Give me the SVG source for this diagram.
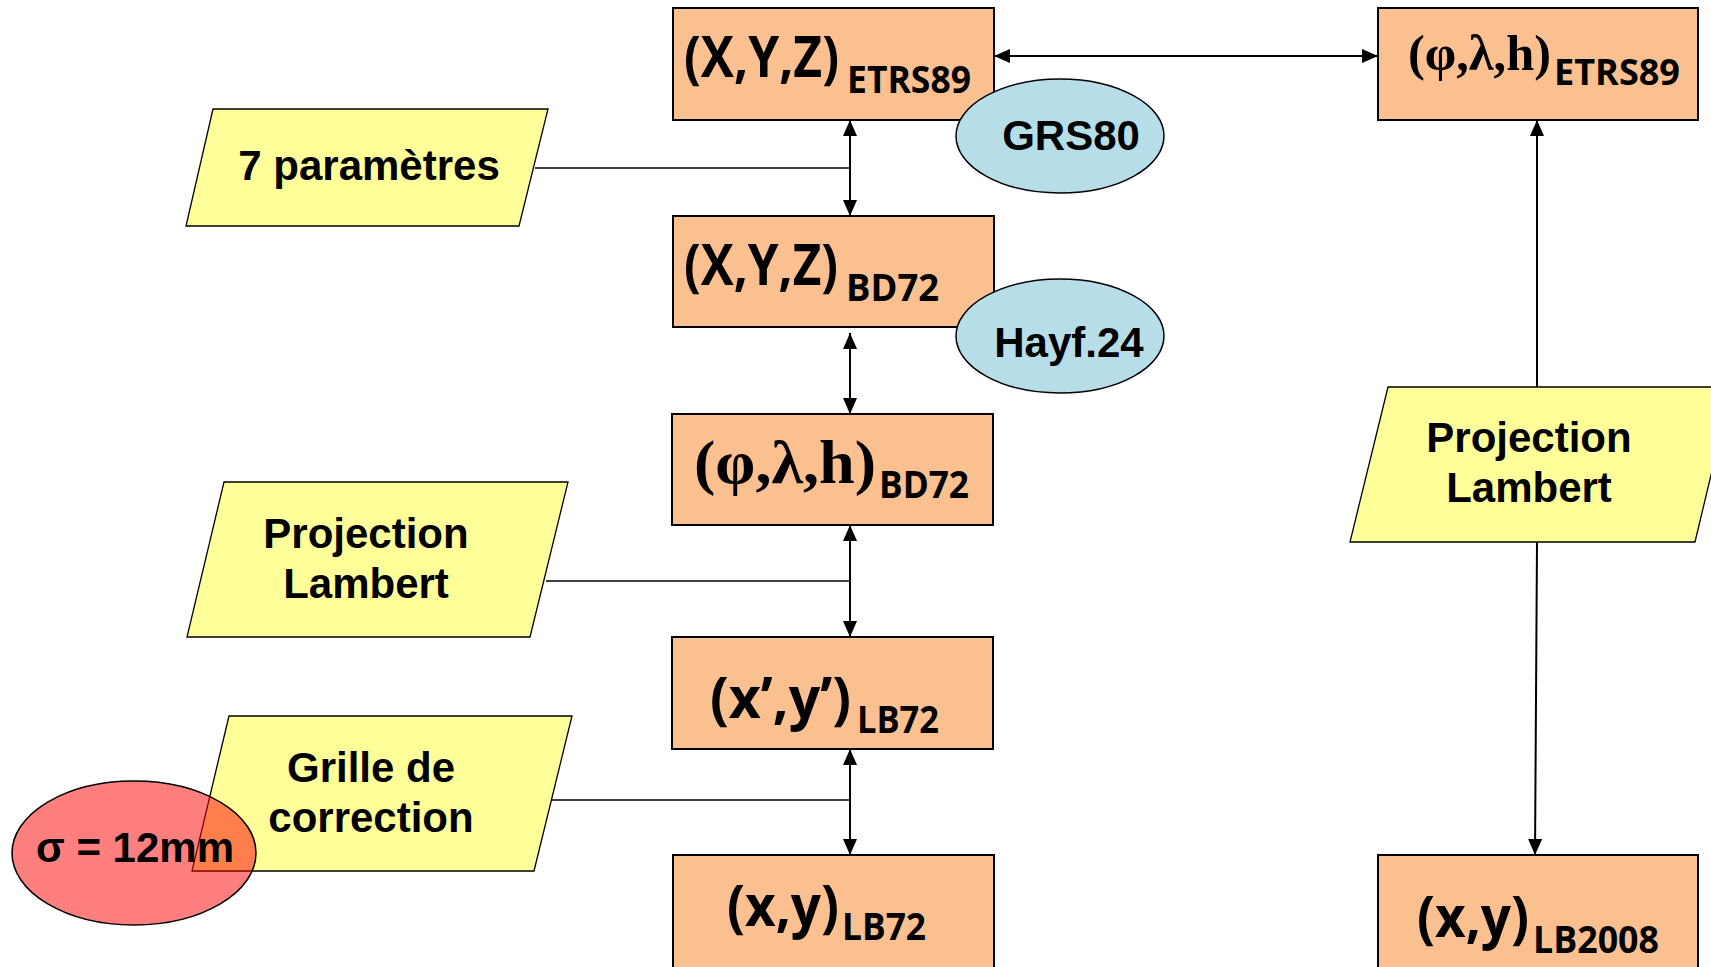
<svg xmlns="http://www.w3.org/2000/svg" width="1711" height="967" viewBox="0 0 1711 967">
<style>
.box{fill:#FAC090;stroke:#000;stroke-width:2}
.para{fill:#FFFF99;stroke:#000;stroke-width:1.3}
.ell{fill:#B7DEE8;stroke:#000;stroke-width:1.5}
.sig{fill:#FF0000;fill-opacity:0.5;stroke:#000;stroke-width:1.5}
.lbl{font-family:"Liberation Sans",Arial,sans-serif;font-weight:bold;font-size:42px;fill:#000;text-anchor:middle}
.m{font-family:"Open Sans","Noto Sans",sans-serif;font-weight:bold;fill:#000}
.g{font-family:"Liberation Serif","Times New Roman",serif;font-weight:bold}
.c{fill:none;stroke:#000;stroke-width:2}
.t{fill:none;stroke:#000;stroke-width:1.3}
</style>
<defs>
<marker id="ah" viewBox="0 0 16 14" refX="16" refY="7" markerWidth="16" markerHeight="14" markerUnits="userSpaceOnUse" orient="auto-start-reverse"><path d="M0,0 L16,7 L0,14 z" fill="#000"/></marker>
</defs>
<g id="connectors">
<line class="t" x1="535" y1="168" x2="850" y2="168"/>
<line class="t" x1="546" y1="581" x2="850" y2="581"/>
<line class="t" x1="546" y1="800" x2="850" y2="800"/>
<line class="c" x1="850" y1="120" x2="850" y2="216" marker-start="url(#ah)" marker-end="url(#ah)"/>
<line class="c" x1="850" y1="333" x2="850" y2="414" marker-start="url(#ah)" marker-end="url(#ah)"/>
<line class="c" x1="850" y1="525" x2="850" y2="637" marker-start="url(#ah)" marker-end="url(#ah)"/>
<line class="c" x1="850" y1="749" x2="850" y2="855" marker-start="url(#ah)" marker-end="url(#ah)"/>
<line class="c" x1="994" y1="56" x2="1378" y2="56" marker-start="url(#ah)" marker-end="url(#ah)"/>
<line class="c" x1="1537" y1="387" x2="1537" y2="120" marker-end="url(#ah)"/>
<line class="c" x1="1537" y1="542" x2="1535" y2="855" marker-end="url(#ah)"/>
</g>
<g id="n-xyz-etrs">
<rect class="box" x="673" y="8" width="321" height="112"/>
<text class="m" transform="translate(684,77) scale(1,1.13)" x="0" y="0" font-size="51" textLength="155" lengthAdjust="spacingAndGlyphs">(X,Y,Z)</text>
<text class="m" x="847" y="93" font-size="37" textLength="124" lengthAdjust="spacingAndGlyphs">ETRS89</text>
</g>
<g id="n-grs80">
<ellipse class="ell" cx="1060" cy="136" rx="104" ry="57"/>
<text class="lbl" x="1071" y="150">GRS80</text>
</g>
<g id="n-plh-etrs">
<rect class="box" x="1378" y="8" width="320" height="112"/>
<text class="m"><tspan class="g" x="1408" y="70" font-size="51" textLength="143" lengthAdjust="spacingAndGlyphs">(φ,λ,h)</tspan><tspan x="1554" y="85" font-size="36" textLength="126" lengthAdjust="spacingAndGlyphs">ETRS89</tspan></text>
</g>
<g id="n-7par">
<polygon class="para" points="213,109 548,109 519,226 186,226"/>
<text class="lbl" x="369" y="180">7 paramètres</text>
</g>
<g id="n-xyz-bd72">
<rect class="box" x="673" y="216" width="321" height="111"/>
<text class="m" transform="translate(684,285) scale(1,1.13)" x="0" y="0" font-size="51" textLength="154" lengthAdjust="spacingAndGlyphs">(X,Y,Z)</text>
<text class="m" x="846" y="301" font-size="37" textLength="93" lengthAdjust="spacingAndGlyphs">BD72</text>
</g>
<g id="n-hayf">
<ellipse class="ell" cx="1060" cy="336" rx="104" ry="57"/>
<text class="lbl" x="1069" y="357">Hayf.24</text>
</g>
<g id="n-plh-bd72">
<rect class="box" x="672" y="414" width="321" height="111"/>
<text class="m"><tspan class="g" x="694" y="483" font-size="61" textLength="182" lengthAdjust="spacingAndGlyphs">(φ,λ,h)</tspan><tspan x="879" y="498" font-size="37" textLength="90" lengthAdjust="spacingAndGlyphs">BD72</tspan></text>
</g>
<g id="n-proj-left">
<polygon class="para" points="224,482 568,482 530,637 187,637"/>
<text class="lbl" x="366" y="548">Projection</text>
<text class="lbl" x="366" y="598">Lambert</text>
</g>
<g id="n-xy-prime">
<rect class="box" x="672" y="637" width="321" height="112"/>
<text class="m"><tspan x="710" y="718" font-size="58" textLength="141" lengthAdjust="spacingAndGlyphs">(x’,y’)</tspan><tspan x="857" y="733" font-size="37" textLength="82" lengthAdjust="spacingAndGlyphs">LB72</tspan></text>
</g>
<g id="n-grille">
<polygon class="para" points="229,716 572,716 534,871 192,871"/>
<text class="lbl" x="371" y="782">Grille de</text>
<text class="lbl" x="371" y="832">correction</text>
</g>
<g id="n-sigma">
<ellipse class="sig" cx="134" cy="853" rx="122" ry="72"/>
<text class="lbl" x="135" y="862">σ = 12mm</text>
</g>
<g id="n-xy-lb72">
<rect class="box" x="673" y="855" width="321" height="130"/>
<text class="m"><tspan x="727" y="926" font-size="58" textLength="112" lengthAdjust="spacingAndGlyphs">(x,y)</tspan><tspan x="842" y="940" font-size="37" textLength="84" lengthAdjust="spacingAndGlyphs">LB72</tspan></text>
</g>
<g id="n-proj-right">
<polygon class="para" points="1388,387 1732,387 1695,542 1350,542"/>
<text class="lbl" x="1529" y="452">Projection</text>
<text class="lbl" x="1529" y="502">Lambert</text>
</g>
<g id="n-xy-lb2008">
<rect class="box" x="1378" y="855" width="320" height="130"/>
<text class="m"><tspan x="1417" y="937" font-size="58" textLength="112" lengthAdjust="spacingAndGlyphs">(x,y)</tspan><tspan x="1533" y="953" font-size="37" textLength="126" lengthAdjust="spacingAndGlyphs">LB2008</tspan></text>
</g>
</svg>
